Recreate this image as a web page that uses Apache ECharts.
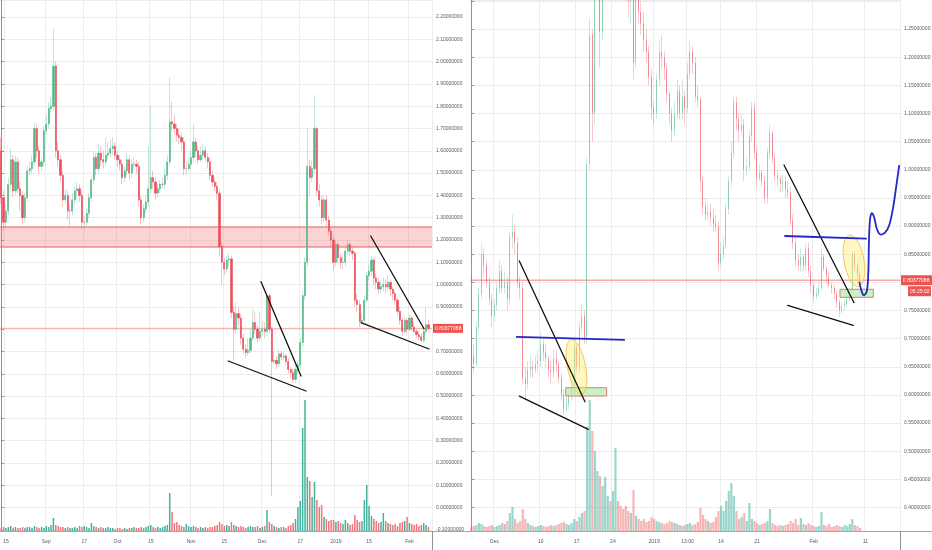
<!DOCTYPE html>
<html><head><meta charset="utf-8">
<script src="https://cdn.jsdelivr.net/npm/echarts@6/dist/echarts.min.js"></script>
<style>html,body{margin:0;padding:0;background:#fff}#c{width:932px;height:550px}</style>
</head><body><div id="c"></div>
<script>
// ---------------- LEFT PANEL (daily) ----------------
const leftOpen = [1.60,1.39,1.28,1.33,1.45,1.56,1.42,1.55,1.43,1.40,
1.30,1.39,1.51,1.52,1.55,1.70,1.60,1.53,1.55,1.69,
1.72,1.79,1.80,1.98,1.60,1.56,1.49,1.38,1.40,1.33,
1.33,1.38,1.42,1.43,1.40,1.28,1.28,1.32,1.39,1.47,
1.57,1.52,1.59,1.56,1.55,1.58,1.59,1.61,1.62,1.58,
1.56,1.54,1.48,1.51,1.56,1.50,1.54,1.54,1.53,1.38,
1.30,1.34,1.37,1.43,1.48,1.46,1.41,1.43,1.45,1.45,
1.49,1.55,1.73,1.72,1.70,1.67,1.66,1.64,1.52,1.52,
1.54,1.57,1.64,1.60,1.56,1.58,1.60,1.57,1.55,1.49,
1.46,1.44,1.41,1.17,1.10,1.07,1.11,1.115,0.875,0.80,
0.87,0.85,0.76,0.71,0.695,0.705,0.76,0.83,0.80,0.76,
0.79,0.80,0.79,0.95,0.80,0.655,0.66,0.645,0.69,0.675,
0.68,0.655,0.62,0.605,0.575,0.62,0.64,0.74,0.95,1.10,
1.53,1.48,1.52,1.70,1.42,1.38,1.30,1.38,1.29,1.24,
1.20,1.10,1.18,1.12,1.10,1.10,1.15,1.18,1.15,1.14,
0.93,0.91,0.835,0.84,0.93,1.04,1.06,1.11,1.03,1.01,
0.98,0.99,1.00,0.99,1.01,0.98,0.96,0.93,0.88,0.84,
0.79,0.84,0.80,0.85,0.81,0.79,0.775,0.765,0.75,0.79,
0.82];
const leftClose = [1.39,1.28,1.33,1.45,1.56,1.42,1.55,1.43,1.40,1.30,
1.39,1.51,1.52,1.55,1.70,1.60,1.53,1.55,1.69,1.72,
1.79,1.80,1.98,1.60,1.56,1.49,1.38,1.40,1.33,1.33,
1.38,1.42,1.43,1.40,1.28,1.28,1.32,1.39,1.47,1.57,
1.52,1.59,1.56,1.55,1.58,1.59,1.61,1.62,1.58,1.56,
1.54,1.48,1.51,1.56,1.50,1.54,1.54,1.53,1.38,1.30,
1.34,1.37,1.43,1.48,1.46,1.41,1.43,1.45,1.45,1.49,
1.55,1.73,1.72,1.70,1.67,1.66,1.64,1.52,1.52,1.54,
1.57,1.64,1.60,1.56,1.58,1.60,1.57,1.55,1.49,1.46,
1.44,1.41,1.17,1.10,1.07,1.11,1.115,0.875,0.80,0.87,
0.85,0.76,0.71,0.695,0.705,0.76,0.83,0.80,0.76,0.79,
0.80,0.79,0.95,0.80,0.655,0.66,0.645,0.69,0.675,0.68,
0.655,0.62,0.605,0.575,0.62,0.64,0.74,0.95,1.10,1.53,
1.48,1.52,1.70,1.42,1.38,1.30,1.38,1.29,1.24,1.20,
1.10,1.18,1.12,1.10,1.10,1.15,1.18,1.15,1.14,0.93,
0.91,0.835,0.84,0.93,1.04,1.06,1.11,1.03,1.01,0.98,
0.99,1.00,0.99,1.01,0.98,0.96,0.93,0.88,0.84,0.79,
0.84,0.80,0.85,0.81,0.79,0.775,0.765,0.75,0.79,0.82,
0.80377088];
const leftHigh = [1.66,1.42,1.36,1.48,1.61,1.58,1.58,1.57,1.46,1.42,
1.41,1.53,1.55,1.58,1.73,1.72,1.62,1.57,1.71,1.76,
1.82,1.84,2.15,2.00,1.64,1.58,1.51,1.43,1.42,1.36,
1.41,1.44,1.46,1.45,1.42,1.31,1.34,1.41,1.49,1.60,
1.59,1.63,1.62,1.60,1.66,1.64,1.65,1.66,1.64,1.60,
1.58,1.56,1.53,1.59,1.58,1.56,1.57,1.56,1.55,1.40,
1.36,1.40,1.62,1.80,1.51,1.48,1.45,1.47,1.48,1.52,
1.58,1.93,1.82,1.76,1.72,1.70,1.68,1.66,1.55,1.57,
1.60,1.72,1.66,1.62,1.62,1.63,1.62,1.59,1.57,1.51,
1.48,1.46,1.43,1.19,1.12,1.13,1.14,1.13,0.90,0.92,
0.90,0.87,0.78,0.73,0.76,0.80,0.89,0.88,0.82,0.88,
0.84,0.83,0.96,0.96,0.81,0.70,0.68,0.71,0.70,0.70,
0.69,0.67,0.63,0.62,0.64,0.66,0.76,0.97,1.12,1.70,
1.56,1.56,1.85,1.71,1.45,1.40,1.40,1.40,1.31,1.26,
1.22,1.20,1.19,1.14,1.13,1.17,1.20,1.19,1.17,1.15,
0.96,0.93,0.87,0.95,1.06,1.09,1.13,1.12,1.05,1.03,
1.02,1.03,1.02,1.04,1.02,0.99,0.97,0.94,0.90,0.85,
0.86,0.85,0.87,0.86,0.83,0.80,0.79,0.78,0.80,0.90,
0.84];
const leftLow = [1.36,1.24,1.25,1.31,1.43,1.39,1.40,1.41,1.33,1.27,
1.28,1.37,1.49,1.50,1.53,1.57,1.50,1.51,1.53,1.67,
1.70,1.77,1.78,1.57,1.53,1.46,1.35,1.36,1.29,1.26,
1.31,1.36,1.39,1.37,1.25,1.24,1.26,1.30,1.37,1.45,
1.49,1.50,1.53,1.52,1.53,1.56,1.57,1.58,1.56,1.53,
1.51,1.45,1.46,1.49,1.47,1.48,1.52,1.50,1.35,1.27,
1.28,1.32,1.35,1.41,1.43,1.38,1.39,1.41,1.43,1.43,
1.47,1.53,1.69,1.67,1.64,1.63,1.60,1.49,1.49,1.51,
1.52,1.55,1.57,1.54,1.55,1.56,1.55,1.52,1.47,1.44,
1.42,1.38,1.13,1.00,1.04,1.05,1.08,0.85,0.66,0.78,
0.82,0.73,0.69,0.67,0.68,0.69,0.75,0.78,0.74,0.75,
0.77,0.76,0.77,0.78,0.05,0.64,0.62,0.63,0.66,0.66,
0.64,0.60,0.58,0.56,0.56,0.60,0.62,0.72,0.93,1.08,
1.40,1.46,1.50,1.40,1.35,1.27,1.28,1.26,1.22,1.17,
1.06,1.08,1.10,1.07,1.07,1.08,1.13,1.13,1.11,0.90,
0.88,0.81,0.82,0.83,0.92,1.02,1.04,1.00,0.98,0.96,
0.96,0.97,0.96,0.97,0.95,0.93,0.91,0.86,0.82,0.77,
0.78,0.78,0.79,0.79,0.78,0.76,0.75,0.74,0.74,0.78,
0.79];
const leftVolume = [3,4,3,4,5,3,4,3,3,4,
3,4,4,3,5,4,3,4,3,5,
4,6,13,6,5,4,4,3,4,3,
3,4,3,5,4,5,4,3,8,5,
4,3,4,3,3,4,3,3,2,3,
3,2,3,2,3,3,4,3,3,4,
3,4,5,6,4,3,4,3,4,5,
6,38,19,8,9,6,5,4,7,5,
4,5,4,3,4,3,4,3,4,4,
5,6,9,7,5,6,5,9,6,5,
4,5,4,3,4,5,4,4,5,3,
4,5,21,9,7,5,4,3,4,4,
3,5,6,8,12,24,30,103,131,54,
50,34,49,31,24,26,14,12,10,11,
11,9,10,8,7,11,8,6,7,16,
11,9,10,31,46,25,15,12,10,8,
9,18,10,8,7,6,7,5,8,9,
10,14,8,7,6,7,5,6,8,6,
4];
const leftTickDates = ['2018-08-15','2018-09-01','2018-09-17','2018-10-01','2018-10-15','2018-11-01','2018-11-15','2018-12-01','2018-12-17','2019-01-01','2019-01-15','2019-02-01'];
const leftTickLabels = ['15','Sep','17','Oct','15','Nov','15','Dec','17','2019','15','Feb'];

// ---------------- RIGHT PANEL (12h) ----------------
const rightOpen = [0.70,0.67,0.655,0.72,0.78,0.85,0.83,0.80,0.77,0.74,
0.76,0.79,0.82,0.79,0.80,0.77,0.88,0.89,0.87,0.80,
0.79,0.63,0.62,0.645,0.65,0.645,0.655,0.66,0.69,0.675,
0.665,0.645,0.64,0.665,0.655,0.63,0.60,0.575,0.585,0.60,
0.615,0.685,0.65,0.72,0.74,0.70,1.01,1.24,1.10,1.35,
1.40,1.245,1.38,1.42,1.45,1.40,1.44,1.48,1.42,1.38,
1.36,1.33,1.30,1.32,1.19,1.33,1.28,1.26,1.23,1.21,
1.165,1.11,1.10,1.16,1.21,1.20,1.18,1.135,1.10,1.07,
1.10,1.14,1.10,1.13,1.11,1.17,1.21,1.19,1.13,1.125,
0.98,0.935,0.92,0.925,0.915,0.905,0.90,0.835,0.85,0.865,
0.93,0.98,1.03,1.12,1.09,1.07,1.08,1.00,1.005,1.06,
1.11,1.03,0.985,0.995,0.98,0.95,1.03,1.065,1.02,0.99,
0.985,0.975,0.98,0.965,0.96,0.91,0.87,0.84,0.83,0.845,
0.83,0.86,0.82,0.795,0.775,0.78,0.79,0.845,0.825,0.81,
0.795,0.79,0.78,0.765,0.75,0.758,0.762,0.77,0.785,0.85,
0.83,0.815];
const rightClose = [0.67,0.655,0.72,0.78,0.85,0.83,0.80,0.77,0.74,0.76,
0.79,0.82,0.79,0.80,0.77,0.88,0.89,0.87,0.80,0.79,
0.63,0.62,0.645,0.65,0.645,0.655,0.66,0.69,0.675,0.665,
0.645,0.64,0.665,0.655,0.63,0.60,0.575,0.585,0.60,0.615,
0.685,0.65,0.72,0.74,0.70,1.01,1.24,1.10,1.35,1.40,
1.245,1.38,1.42,1.45,1.40,1.44,1.48,1.42,1.38,1.36,
1.33,1.30,1.32,1.19,1.33,1.28,1.26,1.23,1.21,1.165,
1.11,1.10,1.16,1.21,1.20,1.18,1.135,1.10,1.07,1.10,
1.14,1.10,1.13,1.11,1.17,1.21,1.19,1.13,1.125,0.98,
0.935,0.92,0.925,0.915,0.905,0.90,0.835,0.85,0.865,0.93,
0.98,1.03,1.12,1.09,1.07,1.08,1.00,1.005,1.06,1.11,
1.03,0.985,0.995,0.98,0.95,1.03,1.065,1.02,0.99,0.985,
0.975,0.98,0.965,0.96,0.91,0.87,0.84,0.83,0.845,0.83,
0.86,0.82,0.795,0.775,0.78,0.79,0.845,0.825,0.81,0.795,
0.79,0.78,0.765,0.75,0.758,0.762,0.77,0.785,0.85,0.83,
0.815,0.80377088];
const rightHigh = [0.72,0.69,0.73,0.79,0.87,0.86,0.84,0.81,0.78,0.77,
0.80,0.84,0.83,0.82,0.81,0.89,0.92,0.90,0.88,0.81,
0.80,0.65,0.66,0.67,0.66,0.67,0.68,0.71,0.70,0.69,
0.67,0.66,0.68,0.68,0.66,0.64,0.61,0.60,0.61,0.63,
0.70,0.69,0.73,0.76,0.75,1.02,1.27,1.25,1.38,1.44,
1.42,1.40,1.46,1.50,1.48,1.47,1.52,1.50,1.44,1.40,
1.38,1.35,1.35,1.34,1.36,1.34,1.30,1.28,1.25,1.22,
1.18,1.12,1.17,1.23,1.24,1.21,1.19,1.14,1.11,1.12,
1.16,1.15,1.16,1.14,1.19,1.23,1.22,1.20,1.15,1.13,
0.99,0.95,0.94,0.94,0.93,0.92,0.91,0.87,0.88,0.94,
0.99,1.05,1.13,1.13,1.10,1.10,1.09,1.02,1.07,1.12,
1.12,1.04,1.01,1.00,0.99,1.04,1.08,1.07,1.03,1.00,
0.99,0.99,0.99,0.98,0.97,0.92,0.88,0.85,0.86,0.85,
0.87,0.87,0.83,0.80,0.79,0.80,0.86,0.85,0.83,0.82,
0.80,0.795,0.785,0.77,0.765,0.77,0.78,0.79,0.855,0.855,
0.835,0.82];
const rightLow = [0.66,0.64,0.65,0.71,0.77,0.81,0.79,0.76,0.72,0.73,
0.75,0.78,0.78,0.78,0.75,0.76,0.86,0.85,0.79,0.77,
0.62,0.59,0.61,0.63,0.63,0.64,0.64,0.65,0.66,0.65,
0.63,0.62,0.63,0.64,0.62,0.59,0.565,0.57,0.575,0.59,
0.60,0.64,0.64,0.71,0.69,0.69,1.00,1.05,1.08,1.33,
1.18,1.23,1.36,1.40,1.37,1.38,1.42,1.39,1.35,1.33,
1.31,1.27,1.26,1.16,1.18,1.26,1.24,1.21,1.19,1.15,
1.09,1.08,1.09,1.15,1.18,1.16,1.12,1.08,1.05,1.06,
1.09,1.09,1.09,1.08,1.10,1.16,1.17,1.12,1.11,0.96,
0.92,0.91,0.91,0.90,0.89,0.89,0.82,0.83,0.84,0.86,
0.92,0.97,1.02,1.07,1.05,1.06,0.98,0.99,1.00,1.05,
1.02,0.97,0.98,0.97,0.94,0.94,1.02,1.01,0.98,0.97,
0.96,0.96,0.95,0.95,0.90,0.86,0.83,0.82,0.82,0.82,
0.82,0.81,0.78,0.765,0.77,0.775,0.785,0.82,0.80,0.79,
0.78,0.77,0.755,0.74,0.745,0.75,0.755,0.765,0.78,0.82,
0.805,0.80];
const rightVolume = [4,5,6,8,7,5,4,5,6,4,
5,6,8,7,10,18,24,12,8,10,
22,12,8,6,5,4,5,6,5,4,
5,6,5,6,7,8,9,7,6,8,
12,10,14,18,20,104,131,100,80,60,
55,45,54,35,30,40,83,30,25,22,
25,20,18,41,15,12,10,12,9,10,
14,12,10,9,8,7,8,10,9,8,
7,6,5,6,7,8,6,7,9,23,
16,12,10,8,9,14,20,25,20,30,
40,48,35,20,12,14,18,10,28,12,
10,8,6,7,8,10,22,8,6,5,
6,5,6,7,10,8,12,6,13,7,
6,8,6,5,4,5,19,6,5,7,
4,5,6,5,4,6,5,7,12,6,
5,3];
const rightTickTimes = ['2018-12-01 00:00','2018-12-10 00:00','2018-12-17 00:00','2018-12-24 00:00','2019-01-01 00:00','2019-01-07 12:00','2019-01-14 00:00','2019-01-21 00:00','2019-02-01 00:00','2019-02-11 00:00'];
const rightTickLabels = ['Dec','10','17','24','2019','13:00','14','21','Feb','11'];

// ---------------- drawn annotations (data coordinates: [index, price]) ----------------
const lastPrice = 0.80377088;
const countdown = '05:25:02';
const leftBand = [1.1686, 1.2583];
const leftTrendLines = [[95.68,0.6574,128.42,0.5229],[109.46,1.0130,126.31,0.5901],[151.59,0.8291,180.24,0.7112],[155.68,1.2179,178.13,0.8022]];
const rightBlackLines = [[18.65,0.838,44.16,0.588],[18.65,0.598,45.44,0.539],[121.45,1.0084,148.65,0.7639],[122.88,0.7592,148.36,0.7237]];
const rightBlueLines = [[17.64,0.703,59.42,0.698],[121.83,0.8823,153.3,0.8775]];
const rightBlueCurve = [[150.69,0.8012],[152.24,0.7775],[153.56,0.7834],[154.18,0.8161],[154.46,0.8752],[154.84,0.9108],[155.50,0.9227],[156.40,0.9166],[157.45,0.8960],[158.73,0.8853],[160.67,0.8882],[162.34,0.9019],[163.89,0.9344],[165.21,0.9759],[166.22,1.0084]];
const rightEllipses = [[40.86,0.6502,3.5,0.0497,-11],[148.63,0.8383,3.88,0.0462,-10]];
const rightBoxes = [[36.67,0.6129,52.59,0.5981],[143.19,0.7877,156.13,0.7734]];

// ---------------- build ----------------
const leftDates = [];
for (let k = 0; k < 182; k++) leftDates.push(new Date(Date.UTC(2018,7,13) + k*864e5).toISOString().slice(0,10));
const rightTimes = [];
for (let k = 0; k < 167; k++) rightTimes.push(new Date(Date.UTC(2018,10,26,12) + k*432e5).toISOString().slice(0,16).replace('T',' '));

const UP = '#53b987', DOWN = '#eb4d5c';
const FONT = 'Liberation Sans, Arial, sans-serif';
const TXT = '#555a66', GRIDC = '#ececec', AXC = '#8f9299';

function catAxis(gridIndex, cats, tickCats, tickLabels, labelAxis) {
  const idx = new Set(tickCats.map(d => cats.indexOf(d)));
  const map = {}; tickCats.forEach((d,k) => map[d] = tickLabels[k]);
  return {
    type:'category', gridIndex, data:cats, boundaryGap:true,
    axisLine:{show:false}, axisTick:{show:false},
    axisLabel:{show:labelAxis, interval:(i)=>idx.has(i), formatter:(v)=>map[v]||'', color:TXT, fontSize:5, fontFamily:FONT, margin:8},
    splitLine:{show:!labelAxis, interval:(i)=>idx.has(i), lineStyle:{color:GRIDC, width:1}}
  };
}
function priceAxis(gridIndex, min, max, step, topLabel) {
  return {
    type:'value', gridIndex, position:'right', min, max, splitNumber: Math.round((max-min)/step), minInterval:step, maxInterval:step, scale:true,
    axisLine:{show:true, lineStyle:{color:AXC, width:1}},
    axisTick:{show:true, length:3, lineStyle:{color:AXC}},
    axisLabel:{showMinLabel:false, showMaxLabel:false, formatter:(v)=> v > topLabel + 1e-9 ? '' : v.toFixed(8), color:TXT, fontSize:5, fontFamily:FONT, margin:4},
    splitLine:{show:true, lineStyle:{color:GRIDC, width:1}}
  };
}
function wickData(o,c,l,h){ return o.map((v,k)=>[v, c[k], l[k], h[k]]); }
function bodyData(o,c){ return o.map((v,k)=>[v, c[k], Math.min(v,c[k]), Math.max(v,c[k])]); }
function volData(vol,o,c,upC,dnC){ return vol.map((v,k)=>({value:v, itemStyle:{color: c[k]>=o[k]?upC:dnC}})); }

function seg(api, s, stroke, w){ const a=api.coord([s[0],s[1]]), b=api.coord([s[2],s[3]]); return {type:'line', shape:{x1:a[0],y1:a[1],x2:b[0],y2:b[1]}, style:{stroke, lineWidth:w, lineCap:'round'}}; }
function hline(api, xmin, xmax, price, stroke, w){ const a=api.coord([xmin,price]), b=api.coord([xmax,price]); return {type:'line', shape:{x1:a[0],y1:a[1],x2:b[0],y2:b[1]}, style:{stroke, lineWidth:w}}; }
function ellipse(api, e){
  const c=api.coord([e[0],e[1]]);
  const rx=Math.abs(api.coord([e[0]+e[2],e[1]])[0]-c[0]);
  const ry=Math.abs(api.coord([e[0],e[1]+e[3]])[1]-c[1]);
  const th=e[4]*Math.PI/180, pts=[];
  for (let k=0;k<60;k++){ const t=k/60*2*Math.PI; const px=rx*Math.cos(t), py=ry*Math.sin(t);
    pts.push([c[0]+px*Math.cos(th)-py*Math.sin(th), c[1]+px*Math.sin(th)+py*Math.cos(th)]); }
  return {type:'polygon', shape:{points:pts}, style:{fill:'rgba(255,236,110,0.42)', stroke:'rgba(244,190,70,0.9)', lineWidth:1}};
}
function box(api, b){ const a=api.coord([b[0],b[1]]), d=api.coord([b[2],b[3]]);
  return {type:'rect', shape:{x:a[0],y:a[1],width:d[0]-a[0],height:d[1]-a[1]}, style:{fill:'rgba(180,235,170,0.7)', stroke:'#e07b74', lineWidth:1}}; }
function tag(x, y, w, h, text){
  return [{type:'rect', shape:{x:x, y:y-h/2, width:w, height:h}, style:{fill:'#ef5350'}},
          {type:'text', x:x+2, y:y, style:{text, fill:'#fff', font:'5px '+FONT, align:'left', verticalAlign:'middle', textAlign:'left', textVerticalAlign:'middle'}}];
}

const chart = echarts.init(document.getElementById('c'), null, {renderer:'canvas'});
chart.setOption({
  animation:false, backgroundColor:'#fff',
  grid:[
    {left:0, top:0, width:432, height:531, outerBoundsMode:'none', containLabel:false},
    {left:470, top:0, width:430, height:531, outerBoundsMode:'none', containLabel:false},
    {left:0, top:300, width:432, height:231, outerBoundsMode:'none', containLabel:false},
    {left:470, top:300, width:430, height:231, outerBoundsMode:'none', containLabel:false}
  ],
  xAxis:[
    catAxis(0, leftDates, leftTickDates, leftTickLabels, false),
    catAxis(2, leftDates, leftTickDates, leftTickLabels, true),
    {type:'value', gridIndex:0, min:-0.5, max:181.5, show:false},
    catAxis(1, rightTimes, rightTickTimes, rightTickLabels, false),
    catAxis(3, rightTimes, rightTickTimes, rightTickLabels, true),
    {type:'value', gridIndex:1, min:-0.5, max:166.5, show:false}
  ],
  yAxis:[
    priceAxis(0, 2.2-(531-17)/223, 2.2+17/223, 0.1, 2.2),
    priceAxis(1, 1.25-502/563, 1.25+29/563, 0.05, 1.25),
    {type:'value', gridIndex:2, min:0, max:231, show:false},
    {type:'value', gridIndex:3, min:0, max:231, show:false}
  ],
  graphic:[
    {type:'line', shape:{x1:0, y1:531.5, x2:932, y2:531.5}, style:{stroke:'#a3a6af', lineWidth:1}, z:100},
    {type:'line', shape:{x1:432.5, y1:531, x2:432.5, y2:550}, style:{stroke:AXC, lineWidth:1}, z:100},
    {type:'line', shape:{x1:900.5, y1:531, x2:900.5, y2:550}, style:{stroke:AXC, lineWidth:1}, z:100}
  ],
  series:[
    // left
    {type:'custom', xAxisIndex:2, yAxisIndex:0, z:1, silent:true, clip:false, data:[[0]],
     renderItem:(p, api)=>{
       const a=api.coord([-0.5,leftBand[1]]), b=api.coord([181.5,leftBand[0]]);
       return {type:'group', children:[
         {type:'rect', shape:{x:a[0],y:a[1],width:b[0]-a[0],height:b[1]-a[1]}, style:{fill:'rgba(246,120,120,0.32)'}},
         {type:'line', shape:{x1:a[0],y1:a[1],x2:b[0],y2:a[1]}, style:{stroke:'#ee5a5a', lineWidth:1}},
         {type:'line', shape:{x1:a[0],y1:b[1],x2:b[0],y2:b[1]}, style:{stroke:'#ee5a5a', lineWidth:1}},
         hline(api, -0.5, 181.5, lastPrice, 'rgba(239,83,80,0.5)', 1)
       ]};
     }},
    {type:'bar', xAxisIndex:1, yAxisIndex:2, barWidth:1.5, silent:true, z:2, data:volData(leftVolume, leftOpen, leftClose, '#45b09c', '#f07478')},
    {type:'candlestick', xAxisIndex:0, yAxisIndex:0, barWidth:0.4, silent:true, z:3, data:wickData(leftOpen,leftClose,leftLow,leftHigh),
     itemStyle:{color:'rgba(0,0,0,0)', color0:'rgba(0,0,0,0)', borderColor:'rgba(83,185,135,0.35)', borderColor0:'rgba(235,77,92,0.35)', borderColorDoji:'rgba(150,150,150,0.35)', borderWidth:1}},
    {type:'candlestick', xAxisIndex:0, yAxisIndex:0, barWidth:1.7, silent:true, z:4, data:bodyData(leftOpen,leftClose),
     itemStyle:{color:UP, color0:DOWN, borderColor:UP, borderColor0:DOWN, borderColorDoji:DOWN, borderWidth:0.6}},
    {type:'custom', xAxisIndex:2, yAxisIndex:0, z:10, silent:true, clip:false, data:[[0]],
     renderItem:(p, api)=>{
       const ch = leftTrendLines.map(s=>seg(api, s, '#111', 1.3));
       const r = api.coord([181.5, lastPrice]);
       return {type:'group', children: ch.concat(tag(r[0]+1, r[1], 30, 9, lastPrice.toFixed(8)))};
     }},
    // right
    {type:'custom', xAxisIndex:5, yAxisIndex:1, z:1, silent:true, clip:false, data:[[0]],
     renderItem:(p, api)=>({type:'group', children:[hline(api, -0.5, 166.5, lastPrice, 'rgba(239,83,80,0.5)', 1.5)]})},
    {type:'bar', xAxisIndex:4, yAxisIndex:3, barWidth:2.2, silent:true, z:2, data:volData(rightVolume, rightOpen, rightClose, 'rgba(70,180,160,0.55)', 'rgba(240,110,110,0.5)')},
    {type:'candlestick', xAxisIndex:3, yAxisIndex:1, barWidth:0.4, silent:true, z:3, data:wickData(rightOpen,rightClose,rightLow,rightHigh),
     itemStyle:{color:'rgba(0,0,0,0)', color0:'rgba(0,0,0,0)', borderColor:'rgba(83,185,135,0.3)', borderColor0:'rgba(235,77,92,0.3)', borderColorDoji:'rgba(150,150,150,0.3)', borderWidth:1}},
    {type:'candlestick', xAxisIndex:3, yAxisIndex:1, barWidth:1.2, silent:true, z:4, data:bodyData(rightOpen,rightClose),
     itemStyle:{color:UP, color0:DOWN, borderColor:UP, borderColor0:DOWN, borderColorDoji:DOWN, borderWidth:0.5}},
    {type:'custom', xAxisIndex:5, yAxisIndex:1, z:10, silent:true, clip:false, data:[[0]],
     renderItem:(p, api)=>{
       let ch = [];
       rightBoxes.forEach(b=>ch.push(box(api,b)));
       rightEllipses.forEach(e=>ch.push(ellipse(api,e)));
       rightBlackLines.forEach(s=>ch.push(seg(api, s, '#111', 1.3)));
       rightBlueLines.forEach(s=>ch.push(seg(api, s, '#2626c9', 1.8)));
       ch.push({type:'polyline', shape:{points:rightBlueCurve.map(q=>api.coord(q)), smooth:0.35}, style:{stroke:'#2626c9', lineWidth:1.8, fill:null}});
       const r = api.coord([166.5, lastPrice]);
       ch = ch.concat(tag(r[0]+1, r[1], 31, 10, lastPrice.toFixed(8)));
       ch = ch.concat(tag(r[0]+8, r[1]+11, 23, 10, countdown));
       return {type:'group', children:ch};
     }}
  ]
});
</script>
</body></html>
